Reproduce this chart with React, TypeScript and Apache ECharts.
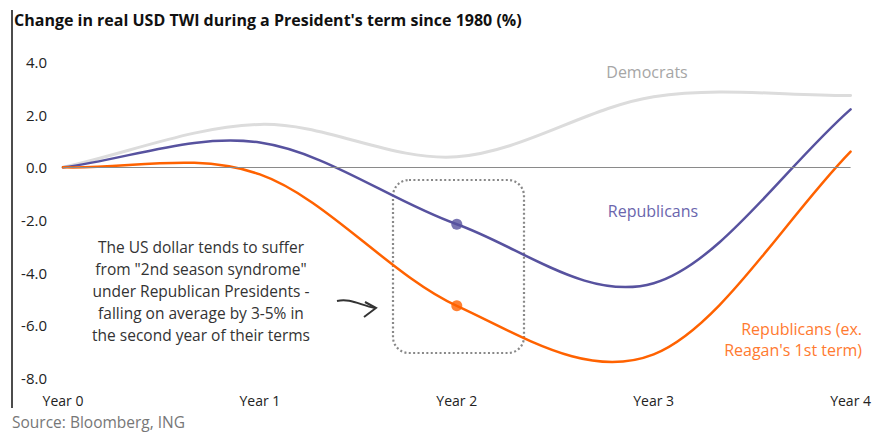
import React, { useEffect, useRef } from "react";
import * as echarts from "echarts";

const years = [0, 1, 2, 3, 4];
const democrats = [0, 1.63, 0.4, 2.68, 2.73];
const republicans = [0, 0.94, -2.16, -4.4, 2.2];
const republicansExReagan = [0, -0.27, -5.26, -7.1, 0.6];
const highlightYear = 2;
const yTicks = { min: -8, max: 4, interval: 2 };
const xTicks = { min: 0, max: 4, interval: 1 };

const FONT = "'Open Sans', 'Noto Sans', sans-serif";
const PURPLE = "#57529f";
const ORANGE = "#ff6200";
const GREY_LINE = "#dcdcdc";

const pairs = (ys: number[]) => years.map((x, i) => [x, ys[i]]);
const highlight = (ys: number[]) => [[highlightYear, ys[years.indexOf(highlightYear)]]];

// Smooth curve (Catmull-Rom style) through the data points, drawn via the chart's own scales.
const smoothSeries = (name: string, ys: number[], color: string, width: number, z: number) => ({
  name,
  type: "custom",
  z,
  data: pairs(ys),
  encode: { x: 0, y: 1 },
  clip: false,
  renderItem: (params: any, api: any) => {
    if (params.dataIndex !== 0) return null;
    const pts: number[][] = ys.map((y, j) => api.coord([years[j], y]));
    const n = pts.length;
    const get = (j: number) => {
      if (j < 0) return [2 * pts[0][0] - pts[1][0], 2 * pts[0][1] - pts[1][1]];
      if (j >= n) return [2 * pts[n - 1][0] - pts[n - 2][0], 2 * pts[n - 1][1] - pts[n - 2][1]];
      return pts[j];
    };
    let d = `M${pts[0][0]},${pts[0][1]}`;
    for (let i = 0; i < n - 1; i++) {
      const p0 = get(i - 1);
      const p1 = pts[i];
      const p2 = pts[i + 1];
      const p3 = get(i + 2);
      const c1x = p1[0] + (p2[0] - p0[0]) / 6;
      const c1y = p1[1] + (p2[1] - p0[1]) / 6;
      const c2x = p2[0] - (p3[0] - p1[0]) / 6;
      const c2y = p2[1] - (p3[1] - p1[1]) / 6;
      d += ` C${c1x},${c1y} ${c2x},${c2y} ${p2[0]},${p2[1]}`;
    }
    return {
      type: "path",
      shape: { pathData: d },
      style: { fill: "none", stroke: color, lineWidth: width, lineCap: "round", lineJoin: "round" },
    };
  },
});

export default function App() {
  const ref = useRef<HTMLDivElement>(null);
  useEffect(() => {
    document.body.style.margin = "0";
    const chart = echarts.init(ref.current!, null, { renderer: "svg" });
    const dotSeries = (ys: number[], color: string) => ({
      type: "scatter",
      data: highlight(ys),
      symbolSize: 11,
      z: 10,
      itemStyle: { color },
    });
    chart.setOption({
      animation: false,
      grid: { left: 63, right: 23, top: 62, bottom: 56 },
      xAxis: {
        type: "value",
        min: xTicks.min,
        max: xTicks.max,
        interval: xTicks.interval,
        axisLine: { show: false },
        axisTick: { show: false },
        splitLine: { show: false },
        axisLabel: {
          formatter: (v: number) => `Year ${v}`,
          color: "#222",
          fontFamily: FONT,
          fontSize: 14,
          margin: 15,
        },
      },
      yAxis: {
        type: "value",
        min: yTicks.min,
        max: yTicks.max,
        interval: yTicks.interval,
        axisLine: { show: false },
        axisTick: { show: false },
        splitLine: { show: false },
        axisLabel: {
          formatter: (v: number) => v.toFixed(1),
          color: "#222",
          fontFamily: FONT,
          fontSize: 15,
          margin: 16,
        },
      },
      series: [
        {
          type: "line",
          data: [],
          z: 1,
          markLine: {
            silent: true,
            symbol: "none",
            label: { show: false },
            lineStyle: { color: "#8a8a8a", width: 1.2, type: "solid" },
            data: [{ yAxis: 0 }],
          },
        },
        smoothSeries("Democrats", democrats, GREY_LINE, 3, 2),
        smoothSeries("Republicans", republicans, PURPLE, 2.5, 3),
        smoothSeries("Republicans (ex. Reagan's 1st term)", republicansExReagan, ORANGE, 2.5, 4),
        dotSeries(republicans, PURPLE),
        dotSeries(republicansExReagan, ORANGE),
      ],
      graphic: [
        { type: "line", shape: { x1: 12, y1: 10, x2: 12, y2: 408 }, style: { stroke: "#111", lineWidth: 1.5 } },
        {
          type: "text",
          style: {
            text: "Change in real USD TWI during a President's term since 1980 (%)",
            x: 14, y: 20, fill: "#111", font: `bold 16px ${FONT}`, verticalAlign: "middle",
          },
        },
        {
          type: "text",
          style: { text: "Source: Bloomberg, ING", x: 12, y: 422, fill: "#777", font: `15.5px ${FONT}`, verticalAlign: "middle" },
        },
        {
          type: "text",
          style: { text: "Democrats", x: 647, y: 72, fill: "#a6a6a6", font: `16px ${FONT}`, textAlign: "center", verticalAlign: "middle" },
        },
        {
          type: "text",
          style: { text: "Republicans", x: 653, y: 211, fill: "#6a65ad", font: `16px ${FONT}`, textAlign: "center", verticalAlign: "middle" },
        },
        {
          type: "text",
          style: {
            text: "Republicans (ex.\nReagan's 1st term)", x: 862, y: 339, fill: "#ff7a30",
            font: `16px ${FONT}`, textAlign: "right", verticalAlign: "middle", lineHeight: 21,
          },
        },
        {
          type: "text",
          style: {
            text: "The US dollar tends to suffer\nfrom \"2nd season syndrome\"\nunder Republican Presidents -\nfalling on average by 3-5% in\nthe second year of their terms",
            x: 201, y: 291, fill: "#333", font: `15.5px ${FONT}`, textAlign: "center", verticalAlign: "middle", lineHeight: 22,
          },
        },
        {
          type: "rect",
          shape: { x: 393, y: 180, width: 131, height: 173, r: 16 },
          style: { fill: "none", stroke: "#888", lineWidth: 2.2, lineDash: [2, 2.4] },
        },
        {
          type: "bezierCurve",
          shape: { x1: 337, y1: 301, cpx1: 350, cpy1: 298, cpx2: 360, cpy2: 305, x2: 375, y2: 308 },
          style: { fill: "none", stroke: "#333", lineWidth: 2 },
        },
        {
          type: "polyline",
          shape: { points: [[365, 302], [376, 308], [364, 317]] },
          style: { fill: "none", stroke: "#333", lineWidth: 2 },
        },
      ],
    });
    return () => chart.dispose();
  }, []);
  return <div ref={ref} style={{ width: 874, height: 434 }} />;
}
